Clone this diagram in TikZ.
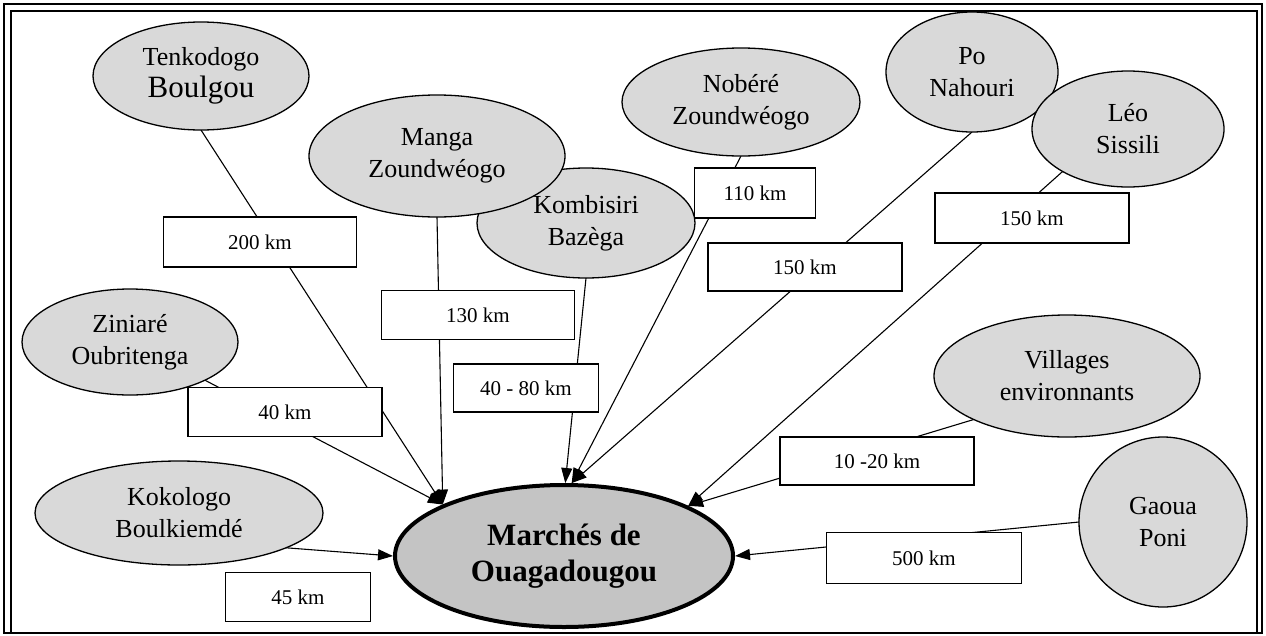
\documentclass[tikz,border=0pt]{standalone}
\usepackage{fontspec}
\setmainfont{Liberation Serif}
\usetikzlibrary{shapes.geometric,arrows.meta}
\pgfdeclarelayer{paper}
\pgfdeclarelayer{lines}
\pgfsetlayers{paper,lines,main}
\begin{document}
\begin{tikzpicture}[x=1pt,y=-1pt,
  ell/.style={ellipse,draw=black,line width=1.3pt,fill=black!15,inner sep=0pt,outer sep=0pt,align=center,font=\fontsize{26}{32}\selectfont},
  kmbox/.style={rectangle,draw=black,line width=1.3pt,fill=white,inner sep=0pt,outer sep=0pt,font=\fontsize{21}{25}\selectfont},
  hubst/.style={ellipse,draw=black,line width=4pt,fill=black!23,inner sep=0pt,outer sep=2pt,align=center,font=\bfseries\fontsize{31}{36}\selectfont},
  con/.style={draw=black,line width=1.1pt},
  arr/.style={con,-{Triangle[length=15pt,width=11pt]}}
]
\useasboundingbox (0,0) rectangle (1266,635);
\begin{pgfonlayer}{paper}
\fill[white] (0,0) rectangle (1266,635);
\end{pgfonlayer}

% regional ellipses
\node[ell,minimum width=216pt,minimum height=108pt] (ten) at (201,76) {Tenkodogo\\\fontsize{31}{36}\selectfont Boulgou};
\node[ell,minimum width=218pt,minimum height=110pt] (komb) at (586,223) {Kombisiri\\Baz\`ega};
\node[ell,minimum width=256pt,minimum height=122pt] (manga) at (437,156) {Manga\\Zoundw\'eogo};
\node[ell,minimum width=238pt,minimum height=108pt] (nob) at (741,102) {Nob\'er\'e\\Zoundw\'eogo};
\node[ell,minimum width=172pt,minimum height=120pt] (po) at (972,72) {Po\\Nahouri};
\node[ell,minimum width=192pt,minimum height=116pt] (leo) at (1128,129) {L\'eo\\Sissili};
\node[ell,minimum width=216pt,minimum height=106pt] (zin) at (130,342) {Ziniar\'e\\Oubritenga};
\node[ell,minimum width=288pt,minimum height=104pt] (kok) at (179,513) {Kokologo\\Boulkiemd\'e};
\node[ell,minimum width=266pt,minimum height=122pt] (vil) at (1067,376) {Villages\\environnants};
\node[ell,minimum width=168pt,minimum height=170pt] (gao) at (1163,522) {Gaoua\\Poni};

% central market
\node[hubst,minimum width=338pt,minimum height=142pt] (hub) at (564,556) {March\'es de\\Ouagadougou};

% distance boxes
\node[kmbox,minimum width=193pt,minimum height=50pt] (b200) at (260,242) {200 km};
\node[kmbox,minimum width=193pt,minimum height=49pt] (b130) at (478,315) {130 km};
\node[kmbox,minimum width=145pt,minimum height=48pt] (b4080) at (526,388) {40 - 80 km};
\node[kmbox,minimum width=121pt,minimum height=50pt] (b110) at (755,193) {110 km};
\node[kmbox,minimum width=194pt,minimum height=48pt] (b150a) at (805,267) {150 km};
\node[kmbox,minimum width=194pt,minimum height=50pt] (b150b) at (1032,218) {150 km};
\node[kmbox,minimum width=194pt,minimum height=49pt] (b40) at (285,412) {40 km};
\node[kmbox,minimum width=145pt,minimum height=49pt] (b45) at (298,597) {45 km};
\node[kmbox,minimum width=194pt,minimum height=48pt] (b1020) at (877,461) {10 -20 km};
\node[kmbox,minimum width=195pt,minimum height=51pt] (b500) at (924,558) {500 km};

% connectors behind the nodes
\begin{pgfonlayer}{lines}
\draw[arr] (ten.south) -- (hub.157);
\draw[arr] (manga.south) -- (hub.157);
\draw[arr] (zin.-27) -- (hub.157);
\draw[arr] (komb.south) -- (hub.89);
\draw[arr] (nob.south) -- (hub.84);
\draw[arr] (po.south) -- (hub.84);
\draw[arr] (leo.213) -- (hub.22);
\draw[arr] (vil.205) -- (hub.22);
\draw[arr] (gao.west) -- (hub.east);
\draw[arr] (kok.-18) -- (hub.west);
\end{pgfonlayer}

% frame
\draw[line width=2pt] (4,4) rectangle (1262,633);
\draw[line width=1.2pt] (11,633) -- (11,11) -- (1257,11) -- (1257,633);
\end{tikzpicture}
\end{document}
